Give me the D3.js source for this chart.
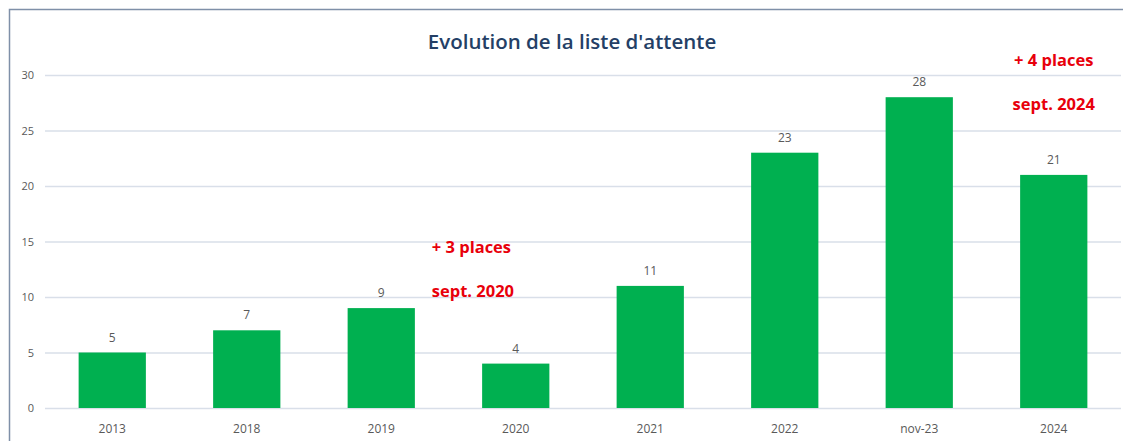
<!DOCTYPE html>
<html>
<head>
<meta charset="utf-8">
<script src="https://cdn.jsdelivr.net/npm/d3@7"></script>
<style>
  body { margin: 0; background: #fff; }
  svg { display: block; }
</style>
</head>
<body>
<svg id="chart"></svg>
<script>
// data
var categories = ["2013", "2018", "2019", "2020", "2021", "2022", "nov-23", "2024"];
var values = [5, 7, 9, 4, 11, 23, 28, 21];
var yTicks = [0, 5, 10, 15, 20, 25, 30];
var notes = [
    {lines: ["+ 3 places", "sept. 2020"], near: "2020", level: 13.95},
    {lines: ["+ 4 places", "sept. 2024"], near: "2024", level: 30.8}
];

var W = 1123, H = 441;
var margin = {top: 75, right: 2, bottom: 33, left: 45},
    width = W - margin.left - margin.right,
    height = H - margin.top - margin.bottom;

var root = d3.select("#chart")
    .attr("width", W)
    .attr("height", H);

// chart frame
root.append("rect")
    .attr("x", 9.5)
    .attr("y", 9.5)
    .attr("width", W)
    .attr("height", H)
    .attr("fill", "#fff")
    .attr("stroke", "#7f90a8")
    .attr("stroke-width", 1.5);

root.append("text")
    .attr("x", 572)
    .attr("y", 49)
    .attr("text-anchor", "middle")
    .style("font-family", "Open Sans, sans-serif")
    .style("font-size", "20.5px")
    .style("font-weight", "600")
    .attr("fill", "#243f66")
    .text("Evolution de la liste d'attente");

var svg = root.append("g")
    .attr("transform", "translate(" + margin.left + "," + margin.top + ")");

var x = d3.scaleBand()
    .domain(categories)
    .range([0, width])
    .paddingInner(0.5)
    .paddingOuter(0.25);

var y = d3.scaleLinear()
    .domain([0, 30])
    .range([height, 0]);

// gridlines
svg.append("g")
    .selectAll("line")
    .data(yTicks)
    .enter().append("line")
    .attr("x1", 0)
    .attr("x2", width)
    .attr("y1", function(d) { return y(d) + 0.5; })
    .attr("y2", function(d) { return y(d) + 0.5; })
    .attr("stroke", "#d9dfe9")
    .attr("stroke-width", 1.5);

// y axis labels
var yAxis = svg.append("g")
    .call(d3.axisLeft(y).tickValues(yTicks).tickSize(0).tickPadding(11));
yAxis.select(".domain").remove();
yAxis.selectAll("text")
    .style("font-family", "Open Sans, sans-serif")
    .style("font-size", "11px")
    .attr("fill", "#595959");

// x axis labels
var xAxis = svg.append("g")
    .attr("transform", "translate(0," + height + ")")
    .call(d3.axisBottom(x).tickSize(0).tickPadding(16));
xAxis.select(".domain").remove();
xAxis.selectAll("text")
    .style("font-family", "Open Sans, sans-serif")
    .style("font-size", "12px")
    .attr("fill", "#595959");

// bars
svg.selectAll(".bar")
    .data(values)
    .enter().append("rect")
    .attr("class", "bar")
    .attr("x", function(d, i) { return x(categories[i]); })
    .attr("y", function(d) { return y(d); })
    .attr("width", x.bandwidth())
    .attr("height", function(d) { return height - y(d); })
    .attr("fill", "#00b050");

// value labels
svg.selectAll(".val")
    .data(values)
    .enter().append("text")
    .attr("class", "val")
    .attr("x", function(d, i) { return x(categories[i]) + x.bandwidth() / 2; })
    .attr("y", function(d) { return y(d) - 11; })
    .attr("text-anchor", "middle")
    .style("font-family", "Open Sans, sans-serif")
    .style("font-size", "12px")
    .attr("fill", "#595959")
    .text(function(d) { return d; });

// red notes (first one sits left of its bar, second centred on it)
notes.forEach(function(n, j) {
    var cx = x(n.near) + x.bandwidth() / 2;
    n.lines.forEach(function(t, k) {
        svg.append("text")
            .attr("x", j == 0 ? cx - 84 : cx)
            .attr("y", y(n.level) + k * 44)
            .attr("text-anchor", j == 0 ? "start" : "middle")
            .style("font-family", "Open Sans, sans-serif")
            .style("font-size", "16.5px")
            .style("font-weight", "bold")
            .attr("fill", "#e8000b")
            .text(t);
    });
});
</script>
</body>
</html>
